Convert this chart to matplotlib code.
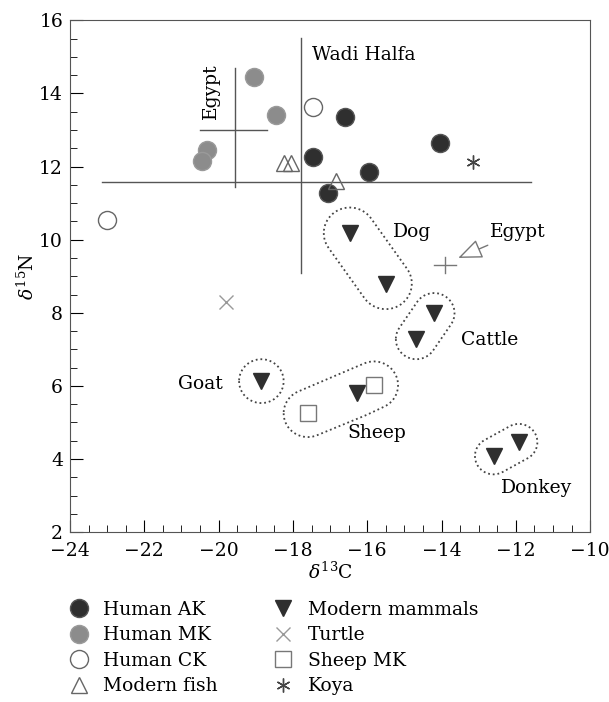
import numpy as np
import matplotlib
matplotlib.use('Agg')
import matplotlib.pyplot as plt
from matplotlib.ticker import MultipleLocator

plt.rcParams['font.family'] = ['DejaVu Serif']
plt.rcParams['mathtext.fontset'] = 'dejavuserif'

# data (d13C, d15N)
human_ak_x = [-16.6, -17.45, -17.05, -15.95, -14.05]
human_ak_y = [13.35, 12.25, 11.27, 11.84, 12.64]
human_mk_x = [-19.05, -18.45, -20.3, -20.45]
human_mk_y = [14.44, 13.4, 12.45, 12.15]
human_ck_x = [-17.45, -23.0]
human_ck_y = [13.62, 10.53]
fish_x = [-18.25, -18.05, -16.85]
fish_y = [12.1, 12.1, 11.6]
turtle_x = [-19.8]
turtle_y = [8.3]
sheep_mk_x = [-17.6, -15.82]
sheep_mk_y = [5.25, 6.02]
koya_x = [-13.15]
koya_y = [12.12]

# modern mammals, grouped by species
mammals = {
    'Dog': ([-16.47, -15.5], [10.18, 8.8]),
    'Cattle': ([-14.2, -14.68], [7.99, 7.28]),
    'Goat': ([-18.85], [6.13]),
    'Sheep': ([-16.28], [5.8]),
    'Donkey': ([-11.92, -12.6], [4.46, 4.08]),
}

# mean and range crosses
wadi_mean = (-17.78, 11.57)
wadi_xrange = (-23.13, -11.6)
wadi_yrange = (9.1, 15.52)
egypt_mean = (-19.56, 13.0)
egypt_xrange = (-20.5, -18.7)
egypt_yrange = (11.45, 14.7)
egypt_fauna = (-13.9, 9.3)
egypt_fauna_err = (0.3, 0.22)


def hull_outline(xs, ys, r, n=60):
    t = np.linspace(0, 2 * np.pi, n, endpoint=False)
    pts = []
    for x, y in zip(xs, ys):
        pts += list(zip(x + r * np.cos(t), y + r * np.sin(t)))
    pts = sorted(set(pts))

    def cross(o, a, b):
        return (a[0] - o[0]) * (b[1] - o[1]) - (a[1] - o[1]) * (b[0] - o[0])

    lower, upper = [], []
    for p in pts:
        while len(lower) >= 2 and cross(lower[-2], lower[-1], p) <= 0:
            lower.pop()
        lower.append(p)
    for p in reversed(pts):
        while len(upper) >= 2 and cross(upper[-2], upper[-1], p) <= 0:
            upper.pop()
        upper.append(p)
    hull = lower[:-1] + upper[:-1]
    hull.append(hull[0])
    return np.array(hull)


fig = plt.figure(figsize=(6.09, 7.02), dpi=100)
ax = fig.add_axes([0.115, 0.242, 0.854, 0.729])

line_kw = dict(color='#555555', lw=1.0, zorder=1)
# Wadi Halfa cross
ax.plot(wadi_xrange, [wadi_mean[1]] * 2, **line_kw)
ax.plot([wadi_mean[0]] * 2, wadi_yrange, **line_kw)
# Egypt human cross
ax.plot(egypt_xrange, [egypt_mean[1]] * 2, **line_kw)
ax.plot([egypt_mean[0]] * 2, egypt_yrange, **line_kw)
# Egypt fauna
ax.plot([egypt_fauna[0] - egypt_fauna_err[0], egypt_fauna[0] + egypt_fauna_err[0]],
        [egypt_fauna[1]] * 2, color='#777777', lw=1.0)
ax.plot([egypt_fauna[0]] * 2,
        [egypt_fauna[1] - egypt_fauna_err[1], egypt_fauna[1] + egypt_fauna_err[1]],
        color='#777777', lw=1.0)

# dotted outlines around the mammal groups
radii = {'Dog': 0.7, 'Cattle': 0.55, 'Goat': 0.6, 'Sheep': 0.65, 'Donkey': 0.5}
for name, (mx, my) in mammals.items():
    gx, gy = list(mx), list(my)
    if name == 'Sheep':
        gx += sheep_mk_x
        gy += sheep_mk_y
    h = hull_outline(gx, gy, radii[name])
    ax.plot(h[:, 0], h[:, 1], color='#444444', lw=1.3, linestyle=(0, (1, 1.6)), zorder=1)

ms = 13
ax.plot(human_ak_x, human_ak_y, 'o', ms=ms, mfc='#2f2f2f', mec='#555555', label='Human AK', zorder=3)
ax.plot(human_mk_x, human_mk_y, 'o', ms=ms, mfc='#8c8c8c', mec='#9a9a9a', label='Human MK', zorder=3)
ax.plot(human_ck_x, human_ck_y, 'o', ms=ms, mfc='white', mec='#666666', label='Human CK', zorder=3)
ax.plot(fish_x, fish_y, '^', ms=12, mfc='none', mec='#666666', label='Modern fish', zorder=3)
all_mx = [x for v in mammals.values() for x in v[0]]
all_my = [y for v in mammals.values() for y in v[1]]
ax.plot(all_mx, all_my, 'v', ms=12, mfc='#2f2f2f', mec='#2f2f2f', label='Modern mammals', zorder=3)
ax.plot(turtle_x, turtle_y, 'x', ms=10, mec='#999999', mew=1.0, label='Turtle', zorder=3)
ax.plot(sheep_mk_x, sheep_mk_y, 's', ms=11, mfc='white', mec='#777777', label='Sheep MK', zorder=3)
ax.plot(koya_x, koya_y, marker=(6, 2, 0), ls='none', ms=10, mec='#444444', mew=1.0, label='Koya', zorder=3)

# labels
fs = 13.5
ax.text(-17.5, 15.05, 'Wadi Halfa', fontsize=fs, ha='left', va='center')
ax.text(-20.2, 14.05, 'Egypt', fontsize=fs, rotation=90, ha='center', va='center')
ax.text(-14.8, 10.2, 'Dog', fontsize=fs, ha='center', va='center')
ax.text(-12.7, 7.25, 'Cattle', fontsize=fs, ha='center', va='center')
ax.text(-20.5, 6.05, 'Goat', fontsize=fs, ha='center', va='center')
ax.text(-15.75, 4.72, 'Sheep', fontsize=fs, ha='center', va='center')
ax.text(-11.45, 3.2, 'Donkey', fontsize=fs, ha='center', va='center')
ax.annotate('Egypt', xy=(-13.55, 9.5), xytext=(-11.95, 10.2), fontsize=fs,
            ha='center', va='center',
            arrowprops=dict(arrowstyle='-|>,head_length=1.1,head_width=0.45',
                            fc='white', ec='#777777', lw=1.0, shrinkA=2, shrinkB=0))

ax.set_xlim(-24, -10)
ax.set_ylim(2, 16)
ax.xaxis.set_major_locator(MultipleLocator(2))
ax.xaxis.set_minor_locator(MultipleLocator(0.5))
ax.yaxis.set_major_locator(MultipleLocator(2))
ax.yaxis.set_minor_locator(MultipleLocator(0.5))
ax.tick_params(which='both', direction='in', top=False, right=False, labelsize=fs)
ax.tick_params(which='major', length=9)
ax.tick_params(which='minor', length=5)
ax.tick_params(axis='x', pad=7)
ax.tick_params(axis='y', pad=5)
ax.xaxis.set_major_formatter(plt.FuncFormatter(lambda v, p: '\u2212%d' % abs(v) if v < 0 else '%d' % v))
for s in ax.spines.values():
    s.set_color('#555555')

ax.set_xlabel(r'$\delta^{13}$C', fontsize=fs, labelpad=1)
ax.set_ylabel(r'$\delta^{15}$N', fontsize=fs, labelpad=1)

fig.legend(loc='upper left', bbox_to_anchor=(0.083, 0.168), ncol=2, frameon=False,
           fontsize=fs, handletextpad=0.7, columnspacing=2.9, labelspacing=0.4,
           handlelength=1.2)

fig.savefig('out.png', dpi=100)
